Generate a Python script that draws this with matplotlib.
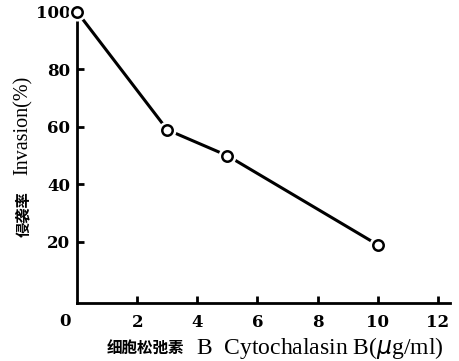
import matplotlib
matplotlib.use("Agg")
import matplotlib.pyplot as plt

# Cytochalasin B dose (ug/ml) vs invasion rate (%)
dose = [0, 3, 5, 10]
invasion = [100, 59, 50, 19]
xticks = [2, 4, 6, 8, 10, 12]
yticks = [20, 40, 60, 80, 100]

SERIF = ["Liberation Serif", "DejaVu Serif"]
TICKF = ["DejaVu Serif"]
CJK = ["Noto Sans CJK SC", "DejaVu Sans"]

fig = plt.figure(figsize=(4.59, 3.61), dpi=100)
ax = fig.add_axes([0.168, 0.161, 0.812, 0.806])

ax.plot(dose, invasion, color="black", lw=2.2, zorder=2, clip_on=False)
ax.plot(dose, invasion, ls="none", marker="o", ms=9, mfc="white", mec="white",
        mew=4, zorder=3, clip_on=False)
ax.plot(dose, invasion, ls="none", marker="o", ms=7.5, mfc="white", mec="black",
        mew=1.8, zorder=4, clip_on=False)

ax.set_xlim(0, 12.4)
ax.set_ylim(-1.2, 100)
ax.spines["top"].set_visible(False)
ax.spines["right"].set_visible(False)
for s in ("left", "bottom"):
    ax.spines[s].set_linewidth(2)

ax.set_xticks(xticks)
ax.set_yticks(yticks)
ax.tick_params(direction="in", length=5, width=2)
ax.tick_params(axis="x", pad=8)
ax.tick_params(axis="y", pad=5)
for lab in ax.get_xticklabels() + ax.get_yticklabels():
    lab.set_fontfamily(TICKF)
    lab.set_fontweight("bold")
    lab.set_fontsize(12)
# origin label sits below-left of the corner
fig.text(65 / 459, 1 - 322 / 361, "0", ha="center", va="center",
         fontsize=12, fontweight="bold", family=TICKF)

# y label: Chinese + English
fig.text(0.050, 1 - 214 / 361, "侵袭率", rotation=90, ha="center", va="center",
         fontsize=11, fontweight="heavy", family=CJK)
fig.text(0.050, 1 - 125 / 361, "Invasion(%)", rotation=90, ha="center", va="center",
         fontsize=14.5, family=SERIF)

# x label
fig.text(107 / 459, 1 - 348 / 361, "细胞松弛素", ha="left", va="center",
         fontsize=11.2, fontweight="heavy", family=CJK)
fig.text(196 / 459, 1 - 348 / 361, r"B  Cytochalasin B($\mu$g/ml)", ha="left",
         va="center", fontsize=17, family=SERIF)

fig.savefig("out.png", dpi=100)
